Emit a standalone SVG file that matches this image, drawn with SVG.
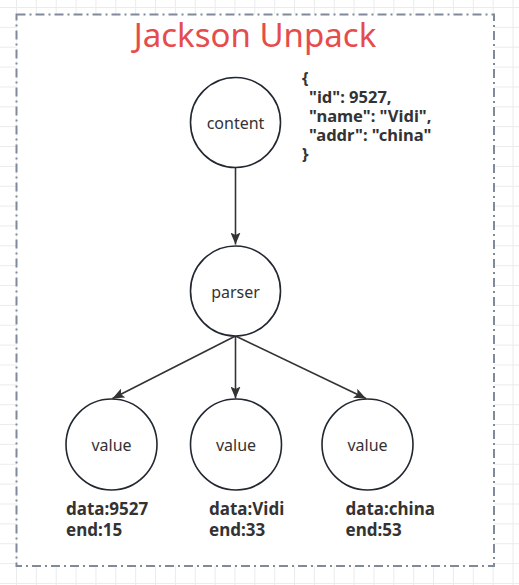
<svg xmlns="http://www.w3.org/2000/svg" width="519" height="585" viewBox="0 0 519 585">
<defs>
<pattern id="grid" x="16" y="7" width="19.86" height="19.86" patternUnits="userSpaceOnUse">
<path d="M0 0.5 H19.86 M0.5 0 V19.86" fill="none" stroke="#ebebeb" stroke-width="1"/>
</pattern>
<marker id="arrow" viewBox="0 0 12 10" refX="12" refY="5" markerWidth="12" markerHeight="10" markerUnits="userSpaceOnUse" orient="auto">
<path d="M0 0 L12 5 L0 10 L2.5 5 Z" fill="#333333"/>
</marker>
<style>
.node circle{fill:#ffffff;stroke:#222831;stroke-width:1.6}
.node text{font-family:"Noto Sans","Open Sans","Liberation Sans",sans-serif;font-size:16px;fill:#333333;text-anchor:middle}
.edge{stroke:#333333;stroke-width:1.6;fill:none;marker-end:url(#arrow)}
.lbl{font-family:"Noto Sans","Open Sans","Liberation Sans",sans-serif;font-size:17px;font-weight:bold;fill:#333333}
.json{font-family:"Noto Sans","Open Sans","Liberation Sans",sans-serif;font-size:16.5px;font-weight:bold;fill:#333333}
</style>
</defs>
<rect x="0" y="0" width="519" height="585" fill="#ffffff"/>
<rect x="0" y="0" width="519" height="585" fill="url(#grid)"/>
<g id="frame">
<rect x="16.5" y="14.5" width="477.5" height="551.5" fill="#ffffff" stroke="#7f8a9a" stroke-width="2" stroke-dasharray="9 4 2 4"/>
<text x="255" y="47" font-family="'Noto Sans','Open Sans','Liberation Sans',sans-serif" font-size="33" fill="#e64c4c" text-anchor="middle">Jackson Unpack</text>
</g>
<g id="json-sample">
<text class="json"><tspan x="302" y="84">{</tspan><tspan x="309" y="103">"id": 9527,</tspan><tspan x="309" y="122">"name": "Vidi",</tspan><tspan x="309" y="141">"addr": "china"</tspan><tspan x="302" y="160">}</tspan></text>
</g>
<g id="connectors">
<path class="edge" d="M235.5 167.5 V244.5"/>
<path class="edge" d="M235.5 336 L112.5 398.5"/>
<path class="edge" d="M235.5 336 V398.5"/>
<path class="edge" d="M235.5 336 L366 398.5"/>
</g>
<g id="content" class="node">
<circle cx="235.5" cy="122.5" r="45"/>
<text x="235.5" y="129">content</text>
</g>
<g id="parser" class="node">
<circle cx="235.5" cy="291" r="45"/>
<text x="235.5" y="297.5">parser</text>
</g>
<g id="value1" class="node">
<circle cx="111.5" cy="444.5" r="45.5"/>
<text x="111.5" y="451">value</text>
</g>
<g id="value2" class="node">
<circle cx="236" cy="444.5" r="45.5"/>
<text x="236" y="451">value</text>
</g>
<g id="value3" class="node">
<circle cx="367.5" cy="444.5" r="45.5"/>
<text x="367.5" y="451">value</text>
</g>
<g id="labels">
<text class="lbl"><tspan x="66" y="515">data:9527</tspan><tspan x="66" y="536">end:15</tspan></text>
<text class="lbl"><tspan x="209" y="515">data:Vidi</tspan><tspan x="209" y="536">end:33</tspan></text>
<text class="lbl"><tspan x="345.5" y="515">data:china</tspan><tspan x="345.5" y="536">end:53</tspan></text>
</g>
</svg>
